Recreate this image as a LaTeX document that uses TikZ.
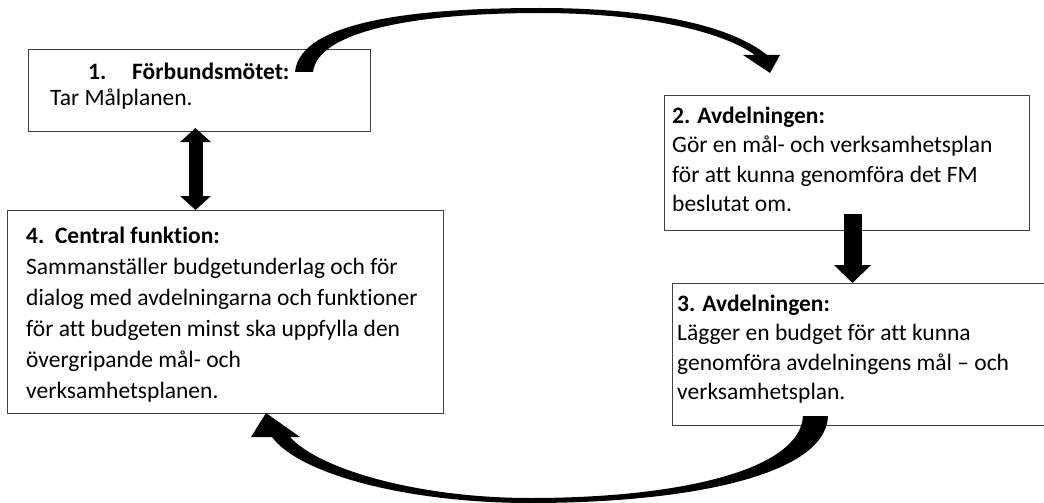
\documentclass[tikz,border=0pt]{standalone}
\usepackage{fontspec}
\setmainfont{Carlito}[Ligatures={NoCommon}]
\usetikzlibrary{arrows.meta}

\tikzset{
  box/.style={rectangle, draw=black!75, line width=1pt, anchor=north west, inner sep=0pt},
  txt/.style={anchor=base west, inner sep=0pt, align=flush left, text width=420pt, font=\fontsize{23.5}{29.5}\selectfont},
  fatarrow/.style={line width=18pt, -{Triangle[width=36pt,length=18pt]}},
  fatdbl/.style={line width=14pt, {Triangle[width=30pt,length=14pt]}-{Triangle[width=30pt,length=14pt]}}
}

\begin{document}
\begin{tikzpicture}[x=1pt, y=-1pt]
  \useasboundingbox (0,0) rectangle (1044,503);
  \clip (0,0) rectangle (1044,503);

  % Boxes
  \node [box, minimum width=342pt, minimum height=82pt] (b1) at (28,49) {};
  \node [box, minimum width=365pt, minimum height=135pt] (b2) at (664,95) {};
  \node [box, minimum width=400pt, minimum height=142pt] (b3) at (672,283) {};
  \node [box, minimum width=436pt, minimum height=203pt] (b4) at (7,210) {};

  % Texts
  \node [txt, font=\fontsize{23.5}{26}\selectfont] (t1) at ([xshift=22pt,yshift=-31pt]b1.north west)
    {\hspace*{38pt}\makebox[44pt][l]{\textbf{1.}}\textbf{Förbundsmötet:}\\Tar Målplanen.};
  \node [txt] (t2) at ([xshift=8pt,yshift=-28pt]b2.north west)
    {\textbf{2. Avdelningen:}\\Gör en mål- och verksamhetsplan\\för att kunna genomföra det FM\\beslutat om.};
  \node [txt] (t3) at ([xshift=5pt,yshift=-28pt]b3.north west)
    {\textbf{3. Avdelningen:}\\Lägger en budget för att kunna\\genomföra avdelningens mål – och\\verksamhetsplan.};
  \node [txt, font=\fontsize{23.5}{31}\selectfont] (t4) at ([xshift=19pt,yshift=-33pt]b4.north west)
    {\textbf{4.\ \ Central funktion:}\\Sammanställer budgetunderlag och för\\dialog med avdelningarna och funktioner\\för att budgeten minst ska uppfylla den\\övergripande mål- och\\verksamhetsplanen.};

  % Connections
  \draw [fatdbl] ([xshift=-4pt,yshift=4pt]b1.south) -- ([xshift=-4pt]b1.south |- b4.north);
  \draw [fatarrow] ([xshift=5.5pt,yshift=17pt]b2.south) -- ([xshift=5.5pt]b2.south |- b3.north);

  % Curved arrows
  \fill (295,72) .. controls (300,20) and (420,8) .. (540,8)
        .. controls (650,8) and (730,25) .. (767,55)
        -- (780,55) -- (770,73) -- (743,55) -- (755,55)
        .. controls (720,30) and (640,13) .. (540,13)
        .. controls (420,13) and (318,30) .. (313,72) -- cycle;
  \fill (828,416) .. controls (826,475) and (690,503) .. (530,503)
        .. controls (410,503) and (300,475) .. (272,437)
        -- (251,437) -- (266,413) -- (300,437) -- (290,437)
        .. controls (320,470) and (420,498) .. (530,498)
        .. controls (680,498) and (800,470) .. (803,416) -- cycle;
\end{tikzpicture}
\end{document}
